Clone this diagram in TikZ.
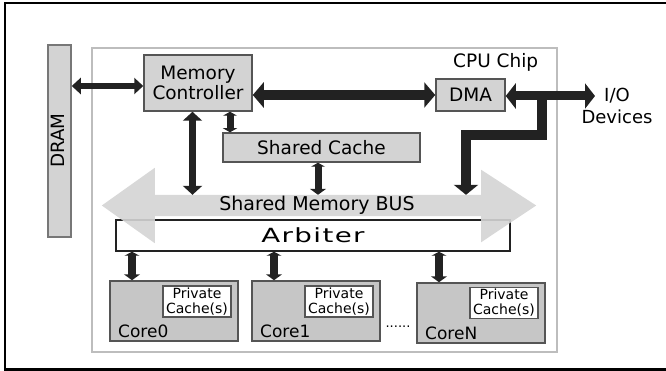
\documentclass[tikz,border=0pt]{standalone}
\usepackage{fontspec}
\setmainfont{DejaVu Sans}
\usetikzlibrary{arrows.meta,calc}

\definecolor{boxfill}{HTML}{D3D3D3}
\definecolor{corefill}{HTML}{C6C6C6}
\definecolor{boxline}{HTML}{555555}
\definecolor{chipline}{HTML}{BDBDBD}
\definecolor{busfill}{HTML}{D4D4D4}
\definecolor{linkc}{HTML}{222222}

\begin{document}
\begin{tikzpicture}[x=1pt,y=-1pt,
  block/.style={draw=boxline, fill=boxfill, line width=1.5pt, inner sep=0pt, align=center},
  corebox/.style={block, fill=corefill, minimum width=128pt, minimum height=60pt},
  cachebox/.style={draw=boxline, fill=white, line width=1.2pt, inner sep=0pt, align=center,
    minimum width=68pt, minimum height=31pt, font=\fontsize{14}{15}\selectfont},
  bigtxt/.style={font=\fontsize{18.5}{20}\selectfont},
  coretxt/.style={anchor=base west, inner sep=0pt, font=\fontsize{17}{18}\selectfont},
  wire/.style={draw=linkc, line width=#1},
]
\useasboundingbox (0,0) rectangle (666,371);

% outer frame (right edge runs off the page)
\draw[line width=2.2pt] (5,3) rectangle (672,369.5);

% CPU chip outline
\draw[chipline, line width=2.2pt] (92,48) rectangle (557,352);
\node[anchor=base west, inner sep=0pt, bigtxt] (chip) at (453,68) {CPU Chip};

% DRAM
\node[block, minimum width=23pt, minimum height=192pt, draw=boxline!80] (dram) at (59.5,141) {};
\node[rotate=90, inner sep=0pt, font=\fontsize{18.3}{19}\selectfont] (dramtxt) at (57.5,140.5) {DRAM};

% on-chip blocks
\node[block, bigtxt, minimum width=108pt, minimum height=56pt] (mc) at (198,83) {Memory\\Controller};
\node[block, bigtxt, minimum width=69pt, minimum height=32pt] (dma) at (470.5,95) {DMA};
\node[block, bigtxt, minimum width=197pt, minimum height=29pt] (sc) at (321.5,147.5) {Shared Cache};

% arbiter
\node[draw=linkc, fill=white, line width=1.5pt, inner sep=0pt, minimum width=394pt, minimum height=31pt,
  font=\fontsize{19.5}{20}\selectfont] (arb) at (313,235.5)
  {\scalebox{1.42}[1]{\addfontfeature{LetterSpace=5}Arbiter}};

% shared memory bus: double-headed band
\path node[inner sep=0pt, minimum width=326pt, minimum height=21pt] (bus) at (318,205.5) {};
\fill[busfill, fill opacity=0.9]
  (bus.north west) -- (bus.north east) -- ($(bus.north east)+(0,-25)$) -- ($(bus.east)+(55,0)$)
  -- ($(bus.south east)+(0,26)$) -- (bus.south east) -- (bus.south west)
  -- ($(bus.south west)+(0,27)$) -- ($(bus.west)+(-53,0)$) -- ($(bus.north west)+(0,-27)$) -- cycle;
\node[anchor=base, inner sep=0pt, font=\fontsize{19}{20}\selectfont] (bustxt) at (317,211) {Shared Memory BUS};

% cores with private caches
\node[corebox] (core0) at (174,311) {};
\node[corebox] (core1) at (316,311) {};
\node[corebox] (coreN) at (481,313) {};
\node[cachebox] (pc0) at (197,301.5) {Private\\Cache(s)};
\node[cachebox] (pc1) at (339,301.5) {Private\\Cache(s)};
\node[cachebox] (pcN) at (504,303) {Private\\Cache(s)};
\node[coretxt] (c0txt) at (118,337) {Core0};
\node[coretxt] (c1txt) at (260,337) {Core1};
\node[coretxt] (cNtxt) at (425,339) {CoreN};
\node[anchor=base, inner sep=0pt, font=\fontsize{13}{14}\selectfont] (dots) at (398,327) {......};

% I/O devices
\node[align=center, inner sep=0pt, font=\fontsize{18}{22}\selectfont] (io) at (617,106) {I/O\\Devices};
\coordinate (iotip) at (595,96);
\coordinate (tap) at (541.5,96);

% connectors
\draw[wire=5.5pt, {Triangle[length=9pt,width=16pt]}-{Triangle[length=9pt,width=16pt]}]
  (dram.east |- 0,86) -- ($(mc.west)+(0,3)$);
\draw[wire=10pt, {Triangle[length=11pt,width=25pt]}-{Triangle[length=11pt,width=25pt]}]
  (mc.east |- dma.west) -- (dma.west);
\draw[wire=9pt, {Triangle[length=10pt,width=25pt]}-{Triangle[length=10pt,width=25pt]}]
  ($(dma.east)+(0,1)$) -- (iotip);
\draw[wire=10pt, line join=miter, -{Triangle[length=10pt,width=24pt]}]
  ($(tap)+(0,-4)$) -- ++(0,43) -| ($(bus.north)+(148,0)$);
\draw[wire=7.5pt, {Triangle[length=9pt,width=19pt]}-{Triangle[length=9pt,width=19pt]}]
  ($(mc.south)+(-5.5,0)$) -- ($(mc.south |- bus.north)+(-5.5,0)$);
\draw[wire=7pt, {Triangle[length=4pt,width=14pt]}-{Triangle[length=4pt,width=14pt]}]
  ($(mc.south)+(32,0)$) -- ($(mc.south |- sc.north)+(32,0)$);
\draw[wire=7pt, {Triangle[length=4pt,width=14pt]}-{Triangle[length=6pt,width=16pt]}]
  ($(sc.south)+(-3.5,0)$) -- ($(sc.south |- bus.north)+(-3.5,0)$);
\foreach \c in {core0,core1,coreN}{
  \draw[wire=7.5pt, {Triangle[length=4pt,width=15pt]}-{Triangle[length=6pt,width=16pt]}]
    ($(\c.north |- arb.south)+(-42,0)$) -- ($(\c.north)+(-42,0)$);
}
\end{tikzpicture}
\end{document}
